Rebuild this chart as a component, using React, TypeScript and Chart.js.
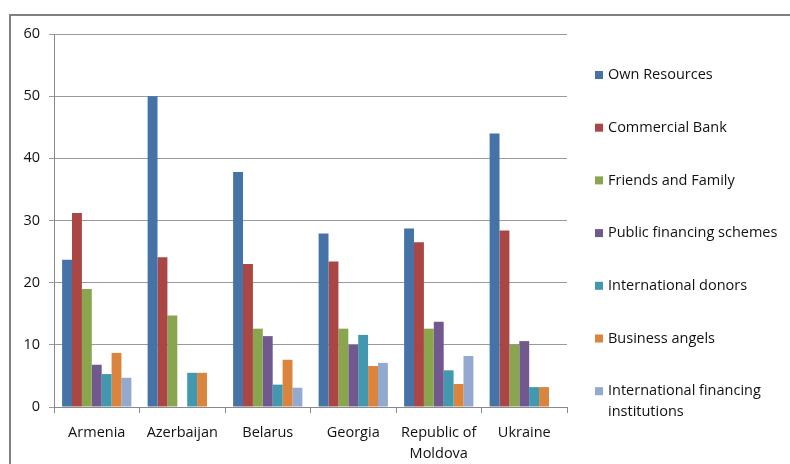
import React, { useEffect, useRef } from "react";
import { Chart, registerables } from "chart.js";

Chart.register(...registerables);

const categories: (string | string[])[] = [
  "Armenia",
  "Azerbaijan",
  "Belarus",
  "Georgia",
  ["Republic of", "Moldova"],
  "Ukraine",
];

const seriesNames = [
  "Own Resources",
  "Commercial Bank",
  "Friends and Family",
  "Public financing schemes",
  "International donors",
  "Business angels",
  "International financing institutions",
];

const ownResources = [23.7, 50.0, 37.8, 27.9, 28.7, 44.0];
const commercialBank = [31.2, 24.1, 23.0, 23.4, 26.5, 28.4];
const friendsAndFamily = [19.0, 14.7, 12.6, 12.6, 12.6, 10.0];
const publicFinancing = [6.8, 0, 11.4, 10.0, 13.7, 10.6];
const internationalDonors = [5.3, 5.5, 3.6, 11.6, 5.9, 3.2];
const businessAngels = [8.7, 5.5, 7.6, 6.6, 3.7, 3.2];
const internationalFinancing = [4.7, 0, 3.1, 7.1, 8.2, 0];

const yTicks = [0, 10, 20, 30, 40, 50, 60];

const seriesValues = [
  ownResources,
  commercialBank,
  friendsAndFamily,
  publicFinancing,
  internationalDonors,
  businessAngels,
  internationalFinancing,
];

const colors = [
  "#4572A7",
  "#AA4643",
  "#89A54E",
  "#71588F",
  "#4198AF",
  "#DB843D",
  "#93A9CF",
];

const FONT = "'Open Sans', 'Noto Sans', sans-serif";
const TEXT_COLOR = "#111111";
const FONT_SIZE = 14.5;

const sideLegend = {
  id: "sideLegend",
  afterDraw(chart: any) {
    const ctx = chart.ctx as CanvasRenderingContext2D;
    ctx.save();
    ctx.font = `${FONT_SIZE}px ${FONT}`;
    ctx.textBaseline = "middle";
    ctx.textAlign = "left";
    const boxX = 595;
    const textX = 608;
    const maxW = 790 - textX - 2;
    const startY = 75;
    const step = 52.7;
    chart.data.datasets.forEach((ds: any, i: number) => {
      const y = startY + i * step;
      ctx.fillStyle = ds.backgroundColor;
      ctx.fillRect(boxX, y - 4, 8, 8);
      const words = String(ds.label).split(" ");
      const lines: string[] = [];
      let cur = "";
      words.forEach((w) => {
        const test = cur ? cur + " " + w : w;
        if (ctx.measureText(test).width > maxW && cur) {
          lines.push(cur);
          cur = w;
        } else cur = test;
      });
      if (cur) lines.push(cur);
      ctx.fillStyle = TEXT_COLOR;
      lines.forEach((ln, j) => ctx.fillText(ln, textX, y + j * 20.5));
    });
    ctx.restore();
  },
};

export default function App() {
  const ref = useRef<HTMLCanvasElement | null>(null);

  useEffect(() => {
    if (!ref.current) return;
    const chart = new Chart(ref.current, {
      type: "bar",
      data: {
        labels: categories,
        datasets: seriesValues.map((vals, i) => ({
          label: seriesNames[i],
          data: vals,
          backgroundColor: colors[i],
          borderWidth: 0,
          categoryPercentage: 0.81,
          barPercentage: 1,
        })),
      },
      options: {
        animation: false,
        responsive: true,
        maintainAspectRatio: false,
        layout: { padding: { left: 0, top: 34, right: 223, bottom: 0 } },
        plugins: {
          legend: { display: false },
          tooltip: { enabled: false },
        },
        scales: {
          x: {
            grid: {
              offset: true,
              drawOnChartArea: false,
              drawTicks: true,
              tickLength: 6,
              color: "#8a8a8a",
            },
            border: { display: true, color: "#8a8a8a" },
            ticks: {
              color: TEXT_COLOR,
              font: { family: FONT, size: FONT_SIZE, lineHeight: 1.4 },
              padding: 10,
              maxRotation: 0,
              autoSkip: false,
            },
            afterFit: (s: any) => {
              s.height = 57;
            },
          },
          y: {
            min: 0,
            max: 60,
            afterBuildTicks: (s: any) => {
              s.ticks = yTicks.map((v) => ({ value: v }));
            },
            grid: {
              color: "#9a9a9a",
              drawTicks: true,
              tickLength: 5,
            },
            border: { display: true, color: "#8a8a8a" },
            ticks: {
              color: TEXT_COLOR,
              font: { family: FONT, size: FONT_SIZE },
              padding: 9,
            },
            afterFit: (s: any) => {
              s.width = 54;
            },
          },
        },
      },
      plugins: [sideLegend],
    });
    return () => chart.destroy();
  }, []);

  return (
    <div
      style={{
        position: "absolute",
        left: 0,
        top: 0,
        width: 790,
        height: 464,
        overflow: "hidden",
        background: "#fff",
      }}
    >
      <div
        style={{
          position: "absolute",
          left: 9,
          top: 14,
          width: 900,
          height: 600,
          border: "2px solid #808080",
        }}
      />
      <div style={{ position: "absolute", left: 0, top: 0, width: 790, height: 464 }}>
        <canvas ref={ref} />
      </div>
    </div>
  );
}
